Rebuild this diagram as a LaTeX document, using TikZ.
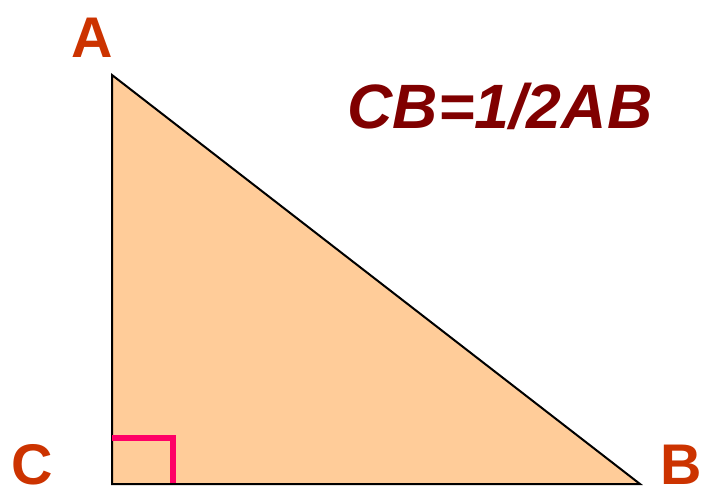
\documentclass[tikz,border=0pt]{standalone}
\usepackage{fontspec}
\setmainfont{Liberation Sans}
\definecolor{vertexred}{HTML}{CC3300}
\definecolor{textred}{HTML}{800000}
\definecolor{trifill}{HTML}{FFCC99}
\definecolor{markpink}{HTML}{FF0066}
\tikzset{
  vertexlabel/.style={text=vertexred, font=\fontsize{43}{46}\selectfont\bfseries, inner sep=0pt},
}
\begin{document}
\begin{tikzpicture}[x=0.75pt, y=-0.75pt]
        \useasboundingbox (0,0) rectangle (703,493);
        \coordinate (C) at (112,484);
        \coordinate (A) at (112,75);
        \coordinate (B) at (640,484);
        \filldraw[fill=trifill, draw=black, line width=1.5pt, line join=miter] (C) -- (A) -- (B) -- cycle;
        \coordinate (m1) at (112,438);
        \coordinate (m2) at (173,438);
        \coordinate (m3) at (173,484);
        \draw[markpink, line width=4pt] (m1) -- (m2) -- (m3);
        \draw[black, line width=1.5pt] (C) -- (B);
        \node[vertexlabel] (labA) at (92,38) {A};
        \node[vertexlabel] (labC) at (32,465) {C};
        \node[vertexlabel] (labB) at (681,465) {B};
        \node[text=textred, font=\fontsize{47}{50}\selectfont\bfseries\itshape, inner sep=0pt] (ratio) at (500,106) {CB=1/2AB};
    \end{tikzpicture}
\end{document}
